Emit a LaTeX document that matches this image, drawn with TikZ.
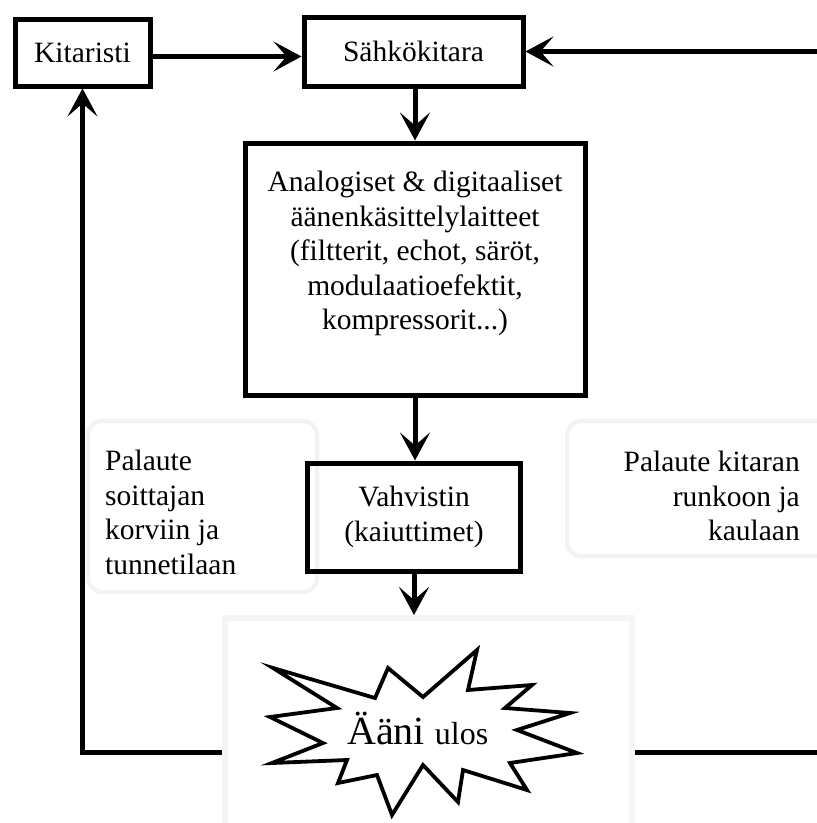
\documentclass[tikz,border=0pt]{standalone}
\usepackage{fontspec}
\setmainfont{Liberation Serif}
\usetikzlibrary{arrows.meta,calc}
\newcommand\mysz{\fontsize{29.5}{34.5}\selectfont}
\begin{document}
\begin{tikzpicture}[x=1pt,y=-1pt,
  box/.style={draw, line width=5pt, inner sep=0pt, align=center, font=\mysz},
  txt/.style={inner sep=0pt, font=\mysz},
  conn/.style={line width=5pt, -{Stealth[length=28pt,width=30pt,inset=13pt]}},
  plain/.style={line width=5pt},
  faint/.style={draw=black!5, line width=4pt, rounded corners=14pt, inner sep=0pt},
  burst/.style={draw, line width=3.8pt, fill=white, line join=miter}]
\useasboundingbox (0,0) rectangle (817,823);
\fill[white] (0,0) rectangle (817,823);

% faint frames
\node[faint, minimum width=229pt, minimum height=171pt] (lframe) at (202.5,506.5) {};
\node[faint, minimum width=262pt, minimum height=135pt] (rframe) at (698,488.5) {};
\node[draw=black!4, line width=6pt, inner sep=0pt, minimum width=407pt, minimum height=220pt] (img) at (428.5,728) {};

% main boxes
\node[box, minimum width=135pt, minimum height=67pt] (kit) at (82.5,52.5) {Kitaristi};
\node[box, minimum width=219pt, minimum height=69pt] (sah) at (413.5,51.5) {Sähkökitara};
\node[box, minimum width=340pt, minimum height=252pt] (ana) at (415,269) {};
\node[txt, align=center, anchor=north] (anatext) at (415,171)
  {Analogiset \& digitaaliset\\äänenkäsittelylaitteet\\(filtterit, echot, säröt,\\modulaatioefektit,\\kompressorit...)};
\node[box, minimum width=213pt, minimum height=108pt] (vah) at (414,517) {Vahvistin\\(kaiuttimet)};

% side texts
\node[txt, align=left, anchor=north west] (lpal) at (105,450)
  {Palaute\\soittajan\\korviin ja\\tunnetilaan};
\node[txt, align=right, anchor=north east] (rpal) at (800,451)
  {Palaute kitaran\\runkoon ja\\kaulaan};

% starburst
\draw[burst] (273,668) -- (375,698) -- (388,668) -- (423,697) -- (477,650) -- (468,690)
  -- (532,685) -- (505,708) -- (570,713) -- (517,730) -- (577,753) -- (510,763)
  -- (527,790) -- (463,770) -- (458,802) -- (423,765) -- (392,815) -- (377,775)
  -- (338,783) -- (347,760) -- (272,763) -- (323,743) -- (270,717) -- (337,708) -- cycle;
\node[inner sep=0pt, anchor=base west] (aani) at (347,744)
  {\fontsize{40}{40}\selectfont Ääni \fontsize{32}{32}\selectfont ulos};

% connectors
\coordinate (rin) at (817,51.5);
\coordinate (fbl) at (222,752);
\coordinate (fbr) at (635,752);
\coordinate (rout) at (817,752);
\draw[conn] ([yshift=-4pt]kit.east) -- ([yshift=-4pt]kit.east -| sah.west);
\draw[conn] (rin) -- (sah.east);
\draw[conn] (sah.south -| ana.north) -- (ana.north);
\draw[conn] (ana.south) -- (ana.south |- vah.north);
\draw[conn] (vah.south) -- (vah.south |- img.north);
\draw[conn] (fbl) -| (kit.south);
\draw[plain] (fbr) -- (rout);
\end{tikzpicture}
\end{document}
